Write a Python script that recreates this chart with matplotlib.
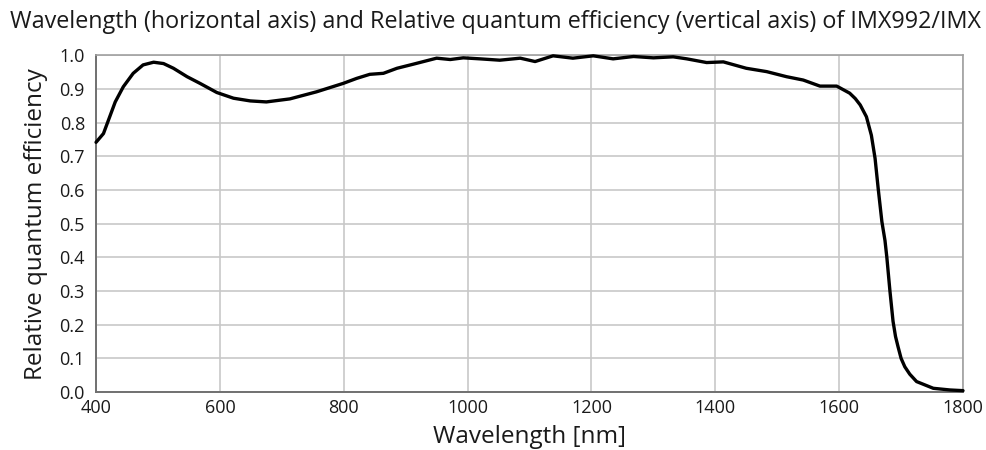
import numpy as np
import matplotlib
matplotlib.use("Agg")
import matplotlib.pyplot as plt
from matplotlib.ticker import FormatStrFormatter

plt.rcParams["font.family"] = ["Open Sans", "DejaVu Sans"]

# curve (wavelength in nm, relative QE)
wavelength = [400, 412, 431, 444, 460, 476, 493, 509, 525, 547, 568, 595, 622, 649,
              675, 713, 756, 799, 821, 842, 864, 886, 912, 950, 972, 993, 1020, 1052,
              1085, 1109, 1138, 1170, 1203, 1235, 1268, 1300, 1332, 1354, 1386, 1413,
              1450, 1483, 1515, 1542, 1569, 1596, 1617, 1626, 1634, 1644, 1652, 1658,
              1663, 1669, 1674, 1677, 1682, 1687, 1691, 1695, 1700, 1706, 1714, 1725,
              1752, 1779, 1800]
rel_qe = [0.742, 0.768, 0.862, 0.907, 0.947, 0.972, 0.980, 0.976, 0.962, 0.937, 0.917,
          0.890, 0.873, 0.865, 0.862, 0.871, 0.892, 0.917, 0.932, 0.944, 0.947, 0.962,
          0.974, 0.992, 0.988, 0.993, 0.990, 0.986, 0.992, 0.982, 0.999, 0.992, 0.999,
          0.990, 0.997, 0.993, 0.996, 0.990, 0.979, 0.981, 0.962, 0.952, 0.937, 0.927,
          0.909, 0.909, 0.888, 0.872, 0.853, 0.818, 0.763, 0.694, 0.605, 0.506, 0.450,
          0.400, 0.300, 0.210, 0.165, 0.135, 0.100, 0.075, 0.053, 0.031, 0.011, 0.006,
          0.004]

x_ticks = np.arange(400, 1801, 200)
y_ticks = np.arange(0.0, 1.01, 0.1)

# only the part visible in the reference (it runs off the right edge there)
title = ("Wavelength (horizontal axis) and Relative quantum efficiency "
         "(vertical axis) of IMX992/IMX")

fig = plt.figure(figsize=(9.87, 4.5), dpi=100)
ax = fig.add_axes([0.0973, 0.1289, 0.8784, 0.7478])

ax.plot(wavelength, rel_qe, color="black", lw=2.4, solid_joinstyle="round",
        solid_capstyle="round", clip_on=False, zorder=3)

ax.set_xlim(400, 1800)
ax.set_ylim(0, 1.0)
ax.set_xticks(x_ticks)
ax.set_yticks(y_ticks)
ax.yaxis.set_major_formatter(FormatStrFormatter("%.1f"))
ax.grid(True, color="#c8c8c8", lw=1.2)
ax.tick_params(length=0, labelsize=13, colors="#1a1a1a", pad=5)
ax.tick_params(axis="y", pad=8)

for side in ["top", "right"]:
    ax.spines[side].set_color("#a0a0a0")
    ax.spines[side].set_linewidth(1.2)
for side in ["left", "bottom"]:
    ax.spines[side].set_color("#707070")
    ax.spines[side].set_linewidth(1.4)

ax.set_xlabel("Wavelength [nm]", fontsize=17.5, color="#1a1a1a", labelpad=6)
ax.set_ylabel("Relative quantum efficiency", fontsize=17.5, color="#1a1a1a", labelpad=8)

fig.text(10 / 987, 1 - 22 / 450, title, fontsize=16.8, color="#1a1a1a",
         ha="left", va="center")

fig.savefig("out.png", dpi=100)
plt.close(fig)
